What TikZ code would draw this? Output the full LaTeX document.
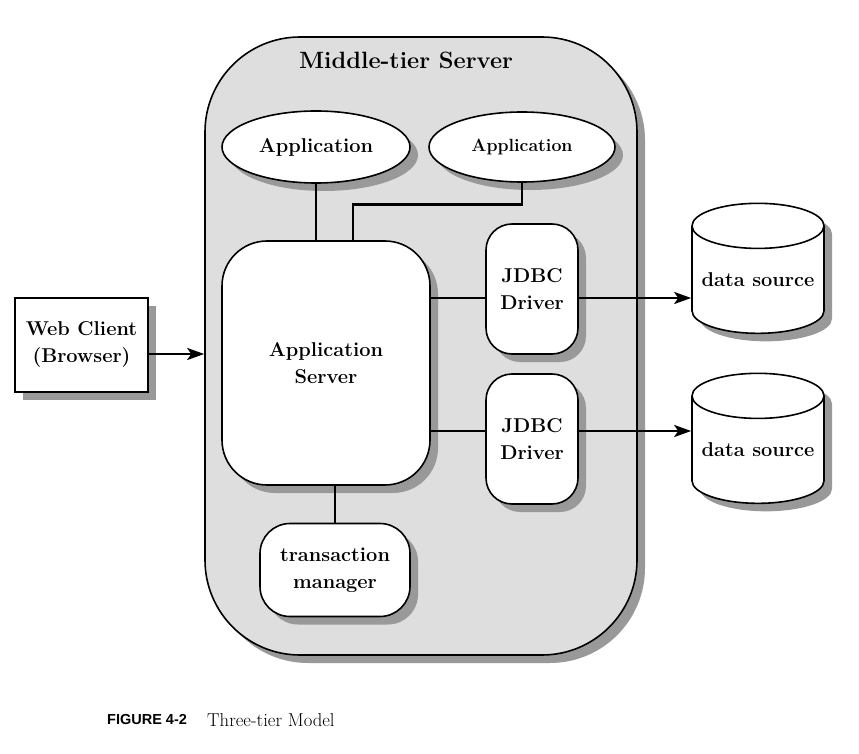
\documentclass[tikz,border=0pt]{standalone}
\usepackage{fontspec}
\newfontfamily\capfont{Liberation Sans}
\usetikzlibrary{shapes.geometric}
\usetikzlibrary{shadows}
\usetikzlibrary{arrows.meta}
\definecolor{tiergray}{RGB}{222,222,222}
\definecolor{shadegray}{RGB}{153,153,153}

\begin{document}
\begin{tikzpicture}[x=1pt, y=-1pt,
    shadowed/.style={drop shadow={shadow xshift=8pt, shadow yshift=-8pt, fill=shadegray, opacity=1}},
    part/.style={draw, fill=white, line width=1.6pt, shadowed, align=center, inner sep=0pt, font=\fontsize{20}{27}\selectfont\bfseries},
    link/.style={line width=2.6pt},
    flow/.style={line width=2.6pt, -{Stealth[length=17pt, width=12pt, inset=4pt]}}]

    \useasboundingbox (0, 0) rectangle (859, 754);

    \node at (421, 346) [draw, fill=tiergray, line width=1.6pt, rounded corners=95pt, minimum width=432pt, minimum height=618pt, shadowed] (mid) {};
    \node at (406, 60) [font=\fontsize{23.6}{28}\selectfont\bfseries] (mid_title) {Middle-tier Server};

    \node at (316, 147) [part, ellipse, minimum width=188pt, minimum height=72pt] (app_1) {Application};
    \node at (522, 147) [part, ellipse, minimum width=186pt, minimum height=70pt, font=\fontsize{17.7}{20}\selectfont\bfseries] (app_2) {Application};

    \node at (326, 363) [part, rounded corners=45pt, minimum width=208pt, minimum height=244pt] (app_server) {Application\\Server};
    \node at (532, 289) [part, rounded corners=26pt, minimum width=92pt, minimum height=130pt] (jdbc_1) {JDBC\\Driver};
    \node at (532, 439) [part, rounded corners=26pt, minimum width=92pt, minimum height=130pt] (jdbc_2) {JDBC\\Driver};
    \node at (335, 570) [part, rounded corners=30pt, minimum width=150pt, minimum height=93pt] (trans) {transaction\\manager};

    \node at (81.5, 345) [part, minimum width=133pt, minimum height=94pt] (web) {Web Client\\(Browser)};

    \node at (758, 280) [part, cylinder, shape border rotate=90, aspect=0.4, minimum width=132pt, minimum height=130pt] (source_1) {data source};
    \node at (758, 450) [part, cylinder, shape border rotate=90, aspect=0.4, minimum width=132pt, minimum height=130pt] (source_2) {data source};

    \draw[link] (app_1.south) -- (app_1.south |- app_server.north);
    \draw[link] (app_2.south) -- ++(0, 22) -| ([xshift=27pt]app_server.north);
    \draw[link] ([yshift=-9pt]jdbc_1.west) -- ([yshift=-9pt]jdbc_1.west -| app_server.east);
    \draw[link] ([yshift=8pt]jdbc_2.west) -- ([yshift=8pt]jdbc_2.west -| app_server.east);
    \draw[link] (trans.north) -- (trans.north |- app_server.south);
    \draw[flow] ([yshift=-9pt]jdbc_1.east) -- ([yshift=-9pt]jdbc_1.east -| source_1.west);
    \draw[flow] ([yshift=8pt]jdbc_2.east) -- ([yshift=8pt]jdbc_2.east -| source_2.west);
    \draw[flow] ([yshift=-9pt]web.east) -- ([yshift=-9pt]web.east -| mid.west);

    \node at (107, 720) [anchor=west, inner sep=0pt, font=\capfont\bfseries\fontsize{14.5}{16}\selectfont] (fig_num) {FIGURE 4-2};
    \node at (207, 720) [anchor=west, inner sep=0pt, font=\fontsize{18.7}{21}\selectfont] (fig_caption) {Three-tier Model};
\end{tikzpicture}
\end{document}
